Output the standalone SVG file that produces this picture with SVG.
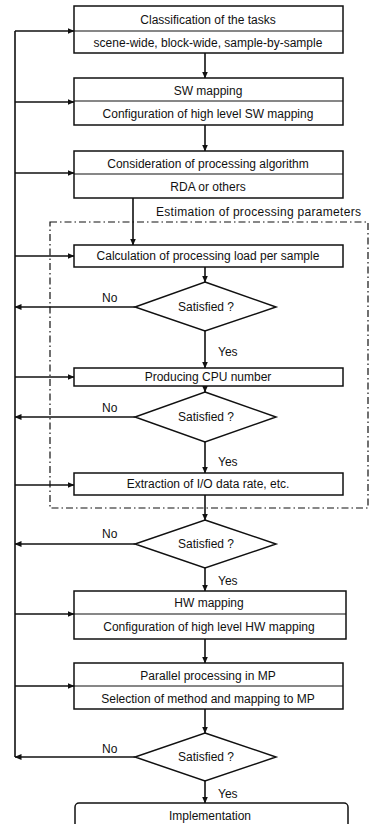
<svg xmlns="http://www.w3.org/2000/svg" width="372" height="824" viewBox="0 0 372 824">
  <style>
    .box { fill: #fff; stroke: #111; stroke-width: 1.5; }
    .div { stroke: #111; stroke-width: 1.2; }
    .t { font-family: "Liberation Sans", Arial, sans-serif; font-size: 12px; fill: #111; text-anchor: middle; }
    .lbl { font-family: "Liberation Sans", Arial, sans-serif; font-size: 12px; fill: #111; }
    .ln { fill: none; stroke: #111; stroke-width: 1.6; }
    .arr { fill: none; stroke: #111; stroke-width: 1.6; marker-end: url(#ah); }
    .frame { fill: none; stroke: #111; stroke-width: 1.2; stroke-dasharray: 7 3 1.5 3; }
  </style>
  <defs>
    <marker id="ah" markerWidth="7" markerHeight="6" refX="6.5" refY="3" orient="auto" markerUnits="userSpaceOnUse">
      <path d="M0,0 L7,3 L0,6 Z" fill="#111"/>
    </marker>
  </defs>
  <rect width="372" height="824" fill="#fff"/>

  <!-- dash-dot frame: estimation stage -->
  <g id="estimation-frame">
    <rect class="frame" x="50" y="222" width="318" height="286"/>
    <text class="lbl" x="156" y="216" style="letter-spacing:0.3px">Estimation of processing parameters</text>
  </g>

  <!-- connectors -->
  <g id="connectors">
    <!-- feedback bus on the left -->
    <path class="ln" d="M15,31 V757"/>
    <path class="arr" d="M15,31 H74"/>
    <path class="arr" d="M15,102 H74"/>
    <path class="arr" d="M15,173 H74"/>
    <path class="arr" d="M15,256 H74"/>
    <path class="arr" d="M15,377 H74"/>
    <path class="arr" d="M15,485 H74"/>
    <path class="arr" d="M15,614 H74"/>
    <path class="arr" d="M15,686 H74"/>
    <!-- "No" exits -->
    <path class="arr" d="M135,307 H15"/>
    <path class="arr" d="M135,417 H15"/>
    <path class="arr" d="M135,544 H15"/>
    <path class="arr" d="M135,757 H15"/>
    <!-- main flow -->
    <path class="arr" d="M205,53 V78"/>
    <path class="arr" d="M205,125 V151"/>
    <path class="arr" d="M133,198 V245"/>
    <path class="arr" d="M205,267 V282"/>
    <path class="arr" d="M205,331 V368"/>
    <path class="arr" d="M205,386 V392"/>
    <path class="arr" d="M205,442 V473"/>
    <path class="arr" d="M205,495 V520"/>
    <path class="arr" d="M205,568 V591"/>
    <path class="arr" d="M205,639 V663"/>
    <path class="arr" d="M205,709 V733"/>
    <path class="arr" d="M205,781 V803"/>
    <text class="lbl" x="102" y="302">No</text>
    <text class="lbl" x="102" y="412">No</text>
    <text class="lbl" x="102" y="538">No</text>
    <text class="lbl" x="102" y="753">No</text>
    <text class="lbl" x="218" y="356">Yes</text>
    <text class="lbl" x="218" y="466">Yes</text>
    <text class="lbl" x="218" y="585">Yes</text>
    <text class="lbl" x="218" y="798">Yes</text>
  </g>

  <g id="classification">
    <rect class="box" x="74" y="6" width="269" height="47"/>
    <line class="div" x1="74" y1="31" x2="343" y2="31"/>
    <text class="t" x="208" y="24">Classification of the tasks</text>
    <text class="t" x="208" y="47">scene-wide, block-wide, sample-by-sample</text>
  </g>

  <g id="sw-mapping">
    <rect class="box" x="74" y="78" width="269" height="47"/>
    <line class="div" x1="74" y1="101" x2="343" y2="101"/>
    <text class="t" x="208" y="95">SW mapping</text>
    <text class="t" x="208" y="118">Configuration of high level SW mapping</text>
  </g>

  <g id="algorithm">
    <rect class="box" x="74" y="151" width="269" height="47"/>
    <line class="div" x1="74" y1="174" x2="343" y2="174"/>
    <text class="t" x="208" y="168">Consideration of processing algorithm</text>
    <text class="t" x="208" y="191">RDA or others</text>
  </g>

  <g id="load-calc">
    <rect class="box" x="74" y="245" width="269" height="22"/>
    <text class="t" x="208" y="260">Calculation of processing load per sample</text>
  </g>

  <g id="check-1">
    <polygon class="box" points="205,282 276,307 205,331 135,307"/>
    <text class="t" x="206" y="311">Satisfied ?</text>
  </g>

  <g id="cpu-number">
    <rect class="box" x="74" y="368" width="269" height="18"/>
    <text class="t" x="208" y="381">Producing CPU number</text>
  </g>

  <g id="check-2">
    <polygon class="box" points="205,392 276,417 205,442 135,417"/>
    <text class="t" x="206" y="421">Satisfied ?</text>
  </g>

  <g id="io-rate">
    <rect class="box" x="74" y="473" width="269" height="22"/>
    <text class="t" x="208" y="488">Extraction of I/O data rate, etc.</text>
  </g>

  <g id="check-3">
    <polygon class="box" points="205,520 276,544 205,568 135,544"/>
    <text class="t" x="206" y="548">Satisfied ?</text>
  </g>

  <g id="hw-mapping">
    <rect class="box" x="74" y="591" width="272" height="48"/>
    <line class="div" x1="74" y1="614" x2="346" y2="614"/>
    <text class="t" x="209" y="607">HW mapping</text>
    <text class="t" x="209" y="631">Configuration of high level HW mapping</text>
  </g>

  <g id="mp-processing">
    <rect class="box" x="74" y="663" width="269" height="46"/>
    <line class="div" x1="74" y1="686" x2="343" y2="686"/>
    <text class="t" x="208" y="680">Parallel processing in MP</text>
    <text class="t" x="208" y="703">Selection of method and mapping to MP</text>
  </g>

  <g id="check-4">
    <polygon class="box" points="205,733 276,757 205,781 135,757"/>
    <text class="t" x="206" y="761">Satisfied ?</text>
  </g>

  <g id="implementation">
    <rect class="box" x="75" y="803" width="273" height="30" rx="4"/>
    <text class="t" x="210" y="820">Implementation</text>
  </g>
</svg>
